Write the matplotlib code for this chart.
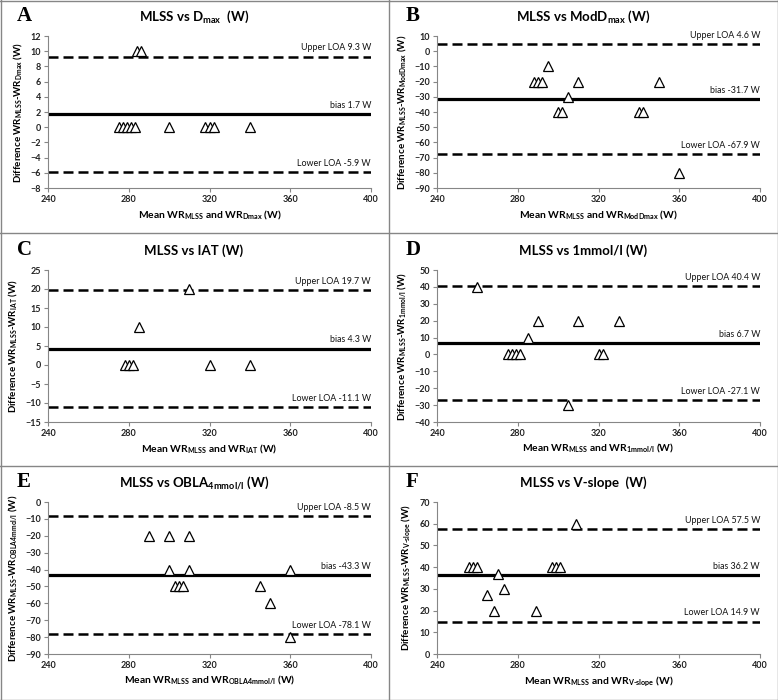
import matplotlib
matplotlib.use("Agg")
import matplotlib.pyplot as plt
from matplotlib.lines import Line2D

plt.rcParams["font.family"] = ["Lato", "DejaVu Sans"]
plt.rcParams["mathtext.fontset"] = "custom"
plt.rcParams["mathtext.rm"] = "Lato"
plt.rcParams["mathtext.bf"] = "Lato:bold"

# panel data: mean of the two methods (x) and difference MLSS - method (y)
dmax_mean = [275, 277, 279, 281, 283, 300, 318, 320, 322, 340, 284, 286]
dmax_diff = [0, 0, 0, 0, 0, 0, 0, 0, 0, 0, 10, 10]

moddmax_mean = [295, 288, 290, 292, 310, 305, 300, 302, 340, 342, 350, 360]
moddmax_diff = [-10, -20, -20, -20, -20, -30, -40, -40, -40, -40, -20, -80]

iat_mean = [278, 280, 282, 285, 310, 320, 340]
iat_diff = [0, 0, 0, 10, 20, 0, 0]

mmol1_mean = [260, 285, 290, 310, 330, 275, 277, 279, 281, 320, 322, 305]
mmol1_diff = [40, 10, 20, 20, 20, 0, 0, 0, 0, 0, 0, -30]

obla_mean = [290, 300, 310, 300, 310, 360, 303, 305, 307, 345, 350, 360]
obla_diff = [-20, -20, -20, -40, -40, -40, -50, -50, -50, -50, -60, -80]

vslope_mean = [309, 256, 258, 260, 297, 299, 301, 270, 273, 265, 268, 289]
vslope_diff = [60, 40, 40, 40, 40, 40, 40, 37, 30, 27, 20, 20]

letters = ["A", "B", "C", "D", "E", "F"]
titles = [r"MLSS vs D$_{\mathbf{max}}$  (W)",
          r"MLSS vs ModD$_{\mathbf{max}}$ (W)",
          "MLSS vs IAT (W)",
          "MLSS vs 1mmol/l (W)",
          r"MLSS vs OBLA$_{\mathbf{4mmol/l}}$ (W)",
          "MLSS vs V-slope  (W)"]
subs = ["Dmax", "ModDmax", "IAT", "1mmol/l", "OBLA4mmol/l", "V\u2010slope"]
bias = [1.7, -31.7, 4.3, 6.7, -43.3, 36.2]
upper = [9.3, 4.6, 19.7, 40.4, -8.5, 57.5]
lower = [-5.9, -67.9, -11.1, -27.1, -78.1, 14.9]
ylims = [(-8, 12), (-90, 10), (-15, 25), (-40, 50), (-90, 0), (0, 70)]
ysteps = [2, 10, 5, 10, 10, 10]
means = [dmax_mean, moddmax_mean, iat_mean, mmol1_mean, obla_mean, vslope_mean]
diffs = [dmax_diff, moddmax_diff, iat_diff, mmol1_diff, obla_diff, vslope_diff]

W, H = 778, 700
fig = plt.figure(figsize=(W / 100, H / 100), dpi=100)
grey = "#868686"

panel_w = 389
panel_tops = [0, 234, 466]
for i in range(6):
    row, col = divmod(i, 2)
    px0 = col * panel_w
    py0 = panel_tops[row]
    # axes box in pixels inside the panel
    left, right, top, bottom = px0 + 48, px0 + 371, py0 + 36, py0 + 188
    ax = fig.add_axes([left / W, 1 - bottom / H, (right - left) / W, (bottom - top) / H])

    ax.axhline(bias[i], color="black", lw=2.3, zorder=2)
    ax.axhline(upper[i], color="black", lw=1.8, ls=(0, (4, 2)), zorder=2)
    ax.axhline(lower[i], color="black", lw=1.8, ls=(0, (4, 2)), zorder=2)
    ax.plot(means[i], diffs[i], ls="none", marker="^", ms=7.5, mfc="white",
            mec="black", mew=0.9, zorder=3, clip_on=False)

    ax.set_xlim(240, 400)
    ax.set_xticks([240, 280, 320, 360, 400])
    y0, y1 = ylims[i]
    ax.set_ylim(y0, y1)
    ax.set_yticks(list(range(y0, y1 + 1, ysteps[i])))
    for s in ["top", "right"]:
        ax.spines[s].set_visible(False)
    for s in ["left", "bottom"]:
        ax.spines[s].set_color(grey)
        ax.spines[s].set_linewidth(0.8)
    ax.tick_params(length=3, width=0.8, color=grey, labelsize=6.5, pad=2)
    for lab in ax.get_xticklabels() + ax.get_yticklabels():
        lab.set_fontweight("bold")
        lab.set_color("#222222")

    sub = subs[i]
    ax.set_xlabel(r"Mean WR$_{\mathbf{MLSS}}$ and WR$_{\mathbf{%s}}$ (W)" % sub,
                  fontsize=7.4, fontweight="bold", labelpad=3)
    ax.set_ylabel(r"Difference WR$_{\mathbf{MLSS}}$-WR$_{\mathbf{%s}}$ (W)" % sub,
                  fontsize=7, fontweight="bold", labelpad=4)

    for val, name in [(upper[i], "Upper LOA"), (bias[i], "bias"), (lower[i], "Lower LOA")]:
        ax.annotate(f"{name} {val} W", xy=(1, val), xycoords=("axes fraction", "data"),
                    xytext=(0, 3), textcoords="offset points", ha="right", va="bottom",
                    fontsize=6.4, color="#111111")

    fig.text((px0 + 194) / W, 1 - (py0 + 17) / H, titles[i], ha="center", va="center",
             fontsize=9.5, fontweight="bold")
    fig.text((px0 + 17) / W, 1 - (py0 + 16) / H, letters[i], ha="left", va="center",
             fontsize=15, fontweight="bold", family="Liberation Serif")

# panel frames
for xx in [0.5, 389, 777.5]:
    fig.add_artist(Line2D([xx / W, xx / W], [0, 1], color=grey, lw=1))
for yy in [0.5, 233, 466, 699.5]:
    fig.add_artist(Line2D([0, 1], [1 - yy / H, 1 - yy / H], color=grey, lw=1))

fig.savefig("out.png", dpi=100, facecolor="white")
